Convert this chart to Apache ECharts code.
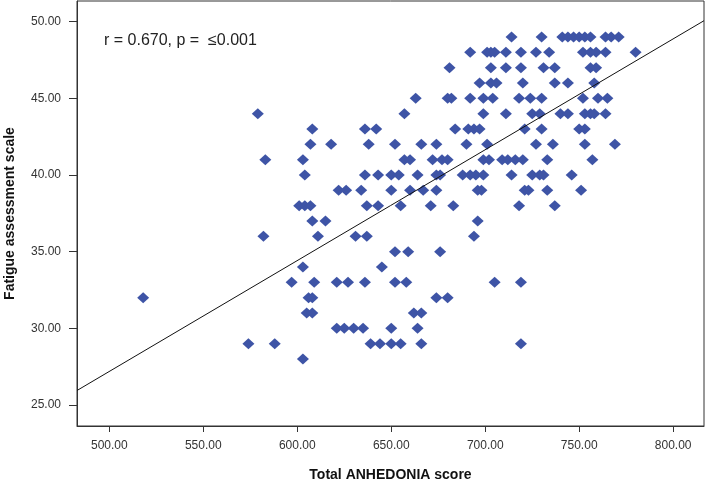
<!DOCTYPE html>
<html>
<head>
<meta charset="utf-8">
<script src="https://cdn.jsdelivr.net/npm/echarts@6/dist/echarts.min.js"></script>
<style>
html,body{margin:0;padding:0;background:#fff;}
#chart{width:705px;height:480px;}
</style>
</head>
<body>
<div id="chart"></div>
<script>
// Fatigue assessment scale levels (y) and the Total ANHEDONIA scores (x) observed at each level
const fatigueLevels = [49, 48, 47, 46, 45, 44, 43, 42, 41, 40, 39, 38, 37, 36, 35, 34, 33, 32, 31, 30, 29, 28];
const anhedoniaByLevel = [
  [714, 730, 741, 744, 747, 750, 753, 756, 764, 767, 771],
  [692, 701, 703, 705, 711, 719, 727, 734, 752, 756, 759, 764, 780],
  [681, 703, 711, 719, 731, 737, 756, 759],
  [697, 703, 706, 720, 737, 744, 758],
  [663, 680, 682, 692, 699, 704, 718, 724, 730, 752, 760, 765],
  [579, 657, 699, 711, 725, 729, 740, 744, 753, 756, 758, 764],
  [608, 636, 642, 684, 691, 694, 697, 721, 730, 750, 753],
  [607, 618, 638, 652, 666, 674, 690, 701, 727, 736, 753, 769],
  [583, 603, 657, 660, 672, 677, 680, 699, 702, 709, 712, 716, 720, 733, 757],
  [604, 636, 643, 650, 654, 664, 674, 676, 688, 692, 695, 699, 714, 725, 729, 731, 746],
  [622, 626, 634, 650, 660, 667, 674, 696, 698, 721, 723, 733, 751],
  [601, 604, 607, 637, 643, 655, 671, 683, 718, 737],
  [608, 615, 696],
  [582, 611, 631, 637, 694],
  [652, 659, 676],
  [603, 645],
  [597, 609, 621, 627, 636, 652, 658, 705, 719],
  [518, 606, 608, 674, 680],
  [605, 608, 662, 666],
  [621, 625, 630, 635, 650, 664],
  [574, 588, 639, 644, 650, 655, 666, 719],
  [603]
];
const xTicks = [500, 550, 600, 650, 700, 750, 800];
const yTicks = [25, 30, 35, 40, 45, 50];
const xRange = [482.8, 816.4];
const yRange = [23.63, 51.35];
// Fit line y = intercept + slope * x
const fitIntercept = -8.96;
const fitSlope = 0.0723;
const annotation = 'r = 0.670, p =  \u22640.001';

const points = [];
fatigueLevels.forEach((lv, i) => anhedoniaByLevel[i].forEach(x => points.push([x, lv])));
const fitLine = xRange.map(x => [x, fitIntercept + fitSlope * x]);

const chart = echarts.init(document.getElementById('chart'), null, {renderer: 'canvas'});
const labelFont = {fontFamily: 'Liberation Sans, Arial, sans-serif', fontSize: 12, color: '#333'};
chart.setOption({
  animation: false,
  backgroundColor: '#fff',
  grid: {left: 77, right: 1, top: 1, bottom: 54, containLabel: false, outerBoundsMode: 'none',
         show: true, borderColor: '#333', borderWidth: 1, backgroundColor: '#fff'},
  xAxis: {
    type: 'value', min: xRange[0], max: xRange[1],
    name: 'Total ANHEDONIA score', nameLocation: 'middle', nameGap: 42,
    nameTextStyle: {fontFamily: 'Liberation Sans, Arial, sans-serif', fontSize: 14, fontWeight: 'bold', color: '#111'},
    axisLine: {show: true, lineStyle: {color: '#333', width: 1}},
    axisTick: {show: true, length: 6, customValues: xTicks, lineStyle: {color: '#333', width: 1}},
    axisLabel: Object.assign({customValues: xTicks, margin: 14, formatter: v => v.toFixed(2)}, labelFont),
    splitLine: {show: false}
  },
  yAxis: {
    type: 'value', min: yRange[0], max: yRange[1],
    name: 'Fatigue assessment scale', nameLocation: 'middle', nameGap: 60,
    nameTextStyle: {fontFamily: 'Liberation Sans, Arial, sans-serif', fontSize: 14, fontWeight: 'bold', color: '#111'},
    axisLine: {show: true, lineStyle: {color: '#333', width: 1}},
    axisTick: {show: true, length: 8, customValues: yTicks, lineStyle: {color: '#333', width: 1}},
    axisLabel: Object.assign({customValues: yTicks, margin: 16, formatter: v => v.toFixed(2)}, labelFont),
    splitLine: {show: false}
  },
  graphic: [{
    type: 'text', left: 104, top: 33,
    style: {text: annotation, font: '16px "Liberation Sans", Arial, sans-serif', fill: '#222'}
  }],
  series: [
    {
      type: 'scatter', data: points, symbol: 'diamond', symbolSize: [12, 11],
      itemStyle: {color: '#3e54a6', opacity: 1}, z: 3
    },
    {
      type: 'line', data: fitLine, symbol: 'none', showSymbol: false,
      lineStyle: {color: '#111', width: 1}, z: 4, silent: true
    }
  ]
});
</script>
</body>
</html>
